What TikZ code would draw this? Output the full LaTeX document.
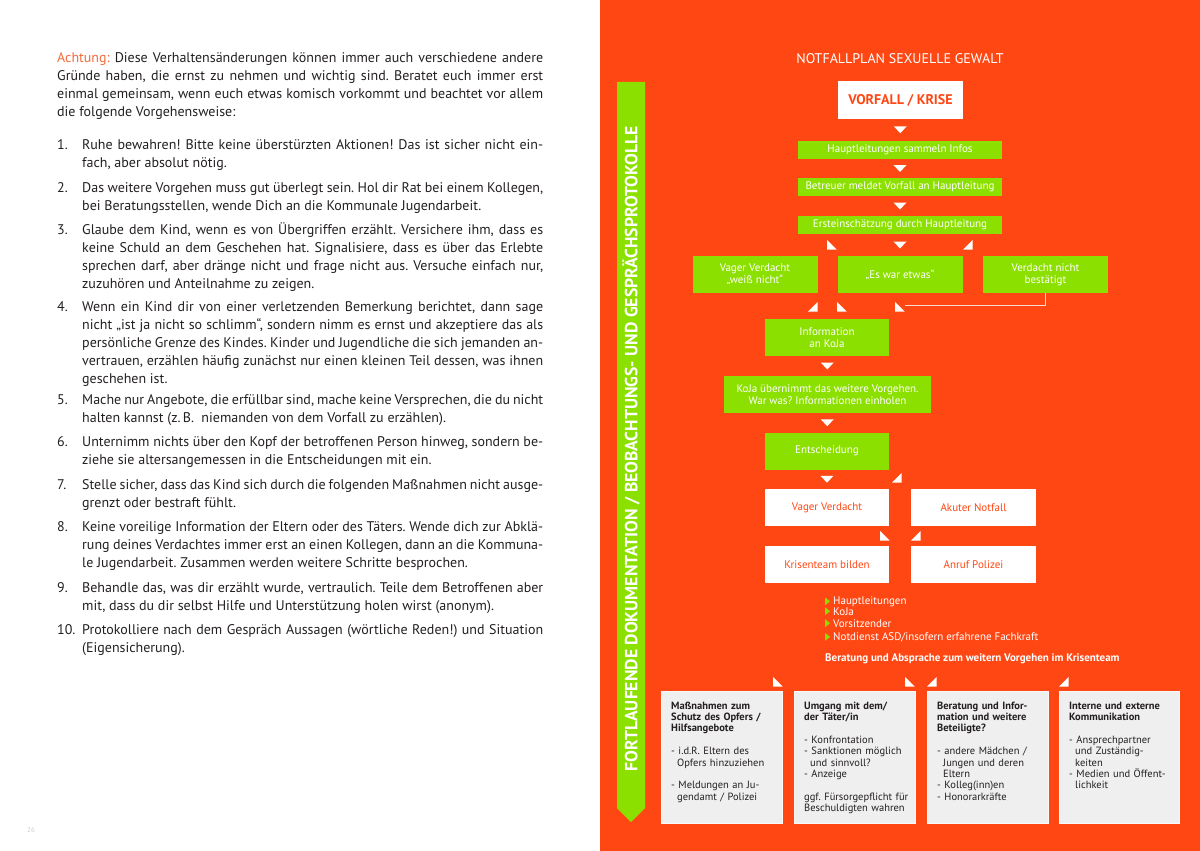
\documentclass[tikz,border=0pt]{standalone}
\usepackage{fontspec}
\setmainfont{PT Sans}
\usepackage{tikz}
\usetikzlibrary{calc, positioning}
\definecolor{notrot}{HTML}{FF4713}
\definecolor{notgruen}{HTML}{8CE000}
\definecolor{achtung}{HTML}{F26B3A}
\definecolor{kasten}{HTML}{EFEFEF}
\definecolor{schrift}{HTML}{231F20}
\newcommand{\einr}{\hspace*{6pt}}
\frenchspacing
\tikzset{
  tdown/.pic={\fill[white] (-6.5,-3.5) -- (6.5,-3.5) -- (0,3.5) -- cycle;},
  tsw/.pic={\fill[white] (0,0) -- (0,9.5) -- (9.5,9.5) -- cycle;},
  tse/.pic={\fill[white] (9.5,0) -- (9.5,9.5) -- (0,9.5) -- cycle;},
  tbul/.pic={\fill[notgruen] (0,-4) -- (5,0) -- (0,4) -- cycle;},
}
\begin{document}
\begin{tikzpicture}[
  x=1pt, y=-1pt,
  lauf/.style={anchor=base west, inner sep=0pt, text=schrift, align=justify,
    font=\frenchspacing\fontsize{14}{18}\selectfont},
  nr/.style={anchor=base west, inner sep=0pt, text=schrift, font=\fontsize{14}{18}\selectfont},
  gbox/.style={fill=notgruen, text=white, inner sep=0pt, align=center,
    minimum width=125pt, minimum height=37pt, font=\fontsize{11}{12}\selectfont},
  gbar/.style={gbox, minimum width=204pt, minimum height=18pt},
  wbox/.style={fill=white, text=notrot, inner sep=0pt, align=center,
    minimum width=125pt, minimum height=37pt, font=\fontsize{11}{12}\selectfont},
  grau/.style={fill=kasten, draw=white!60!kasten, inner sep=0pt, anchor=north west,
    minimum width=121pt, minimum height=132pt},
  ktext/.style={anchor=base west, inner sep=0pt, text=schrift, align=left,
    text width=112pt, font=\frenchspacing\fontsize{10.5}{11.4}\selectfont},
  liste/.style={anchor=base west, inner sep=0pt, text=white, font=\fontsize{11}{12}\selectfont},
]
\useasboundingbox (0,0) rectangle (1200,851);
\fill[notrot] (600,0) rectangle (1200,851);

% linke Seite
\node[lauf, text width=486pt] (achtung) at (57,62.5) {\textcolor{achtung}{Achtung:} Diese Verhaltensänderungen können immer auch verschiedene andere\linebreak Gründe haben, die ernst zu nehmen und wichtig sind. Beratet euch immer erst\linebreak einmal gemeinsam, wenn euch etwas komisch vorkommt und beachtet vor allem\linebreak die folgende Vorgehensweise:};

\node[nr] (n1) at (57,149.5) {1.};
\node[lauf, text width=461pt] (t1) at (82,149.5) {Ruhe bewahren! Bitte keine überstürzten Aktionen! Das ist sicher nicht ein-\linebreak fach, aber absolut nötig.};
\node[nr] (n2) at (57,192.5) {2.};
\node[lauf, text width=461pt] (t2) at (82,192.5) {Das weitere Vorgehen muss gut überlegt sein. Hol dir Rat bei einem Kollegen,\linebreak bei Beratungsstellen, wende Dich an die Kommunale Jugendarbeit.};
\node[nr] (n3) at (57,234.5) {3.};
\node[lauf, text width=461pt] (t3) at (82,234.5) {Glaube dem Kind, wenn es von Übergriffen erzählt. Versichere ihm, dass es\linebreak keine Schuld an dem Geschehen hat. Signalisiere, dass es über das Erlebte\linebreak sprechen darf, aber dränge nicht und frage nicht aus. Versuche einfach nur,\linebreak zuzuhören und Anteilnahme zu zeigen.};
\node[nr] (n4) at (57,311.5) {4.};
\node[lauf, text width=461pt] (t4) at (82,311.5) {Wenn ein Kind dir von einer verletzenden Bemerkung berichtet, dann sage\linebreak nicht „ist ja nicht so schlimm“, sondern nimm es ernst und akzeptiere das als\linebreak persönliche Grenze des Kindes. Kinder und Jugendliche die sich jemanden an-\linebreak vertrauen, erzählen häufig zunächst nur einen kleinen Teil dessen, was ihnen\linebreak geschehen ist.};
\node[nr] (n5) at (57,404.5) {5.};
\node[lauf, text width=461pt] (t5) at (82,404.5) {Mache nur Angebote, die erfüllbar sind, mache keine Versprechen, die du nicht\linebreak halten kannst (z.\,B.~ niemanden von dem Vorfall zu erzählen).};
\node[nr] (n6) at (57,446.5) {6.};
\node[lauf, text width=461pt] (t6) at (82,446.5) {Unternimm nichts über den Kopf der betroffenen Person hinweg, sondern be-\linebreak ziehe sie altersangemessen in die Entscheidungen mit ein.};
\node[nr] (n7) at (57,489.5) {7.};
\node[lauf, text width=461pt] (t7) at (82,489.5) {Stelle sicher, dass das Kind sich durch die folgenden Maßnahmen nicht ausge-\linebreak grenzt oder bestraft fühlt.};
\node[nr] (n8) at (57,531.5) {8.};
\node[lauf, text width=461pt] (t8) at (82,531.5) {Keine voreilige Information der Eltern oder des Täters. Wende dich zur Abklä-\linebreak rung deines Verdachtes immer erst an einen Kollegen, dann an die Kommuna-\linebreak le Jugendarbeit. Zusammen werden weitere Schritte besprochen.};
\node[nr] (n9) at (57,592.5) {9.};
\node[lauf, text width=461pt] (t9) at (82,592.5) {Behandle das, was dir erzählt wurde, vertraulich. Teile dem Betroffenen aber\linebreak mit, dass du dir selbst Hilfe und Unterstützung holen wirst (anonym).};
\node[nr] (n10) at (57,634.5) {10.};
\node[lauf, text width=461pt] (t10) at (82,634.5) {Protokolliere nach dem Gespräch Aussagen (wörtliche Reden!) und Situation\linebreak (Eigensicherung).};

\node[anchor=base west, inner sep=0pt, text=black!20, font=\fontsize{7}{7}\selectfont] (seite) at (27,832) {26};

% rechte Seite
\node[text=white, inner sep=0pt, font=\fontsize{14}{14}\selectfont] (titel) at (900,59) {NOTFALLPLAN SEXUELLE GEWALT};

\fill[notgruen] (617,82) -- (645,82) -- (645,808) -- (631,822) -- (617,808) -- cycle;
\node[rotate=90, text=white, inner sep=0pt, font=\bfseries\fontsize{17.6}{17.6}\selectfont] (band) at (631,449) {FORTLAUFENDE DOKUMENTATION / BEOBACHTUNGS- UND GESPRÄCHSPROTOKOLLE};

\node[wbox, font=\bfseries\fontsize{14}{14}\selectfont] (vorfall) at (900.5,100) {VORFALL / KRISE};
\node[gbar] (hl1) at (900,150) {Hauptleitungen sammeln Infos};
\node[gbar] (hl2) at (900,187) {Betreuer meldet Vorfall an Hauptleitung};
\node[gbar] (hl3) at (900,225) {Ersteinschätzung durch Hauptleitung};
\node[gbox] (vag) at (755,274.5) {Vager Verdacht\\„weiß nicht“};
\node[gbox] (etwas) at (900,274.5) {„Es war etwas“};
\node[gbox] (nicht) at (1045.5,274.5) {Verdacht nicht\\bestätigt};
\node[gbox, minimum width=124pt] (koja) at (827,337.5) {Information\\an KoJa};
\node[gbox, minimum width=207pt] (vorgehen) at (827.5,394.5) {KoJa übernimmt das weitere Vorgehen.\\War was? Informationen einholen};
\node[gbox, minimum width=124pt] (ent) at (827,451) {Entscheidung};
\node[wbox, minimum width=124pt] (vager) at (827,507.5) {Vager Verdacht};
\node[wbox] (akut) at (973.5,507.5) {Akuter Notfall};
\node[wbox, minimum width=124pt] (krise) at (827,564.5) {Krisenteam bilden};
\node[wbox] (polizei) at (973.5,564.5) {Anruf Polizei};

\pic at ($(vorfall.south)!.5!(hl1.north)$) {tdown};
\pic at ($(hl1.south)!.5!(hl2.north)$) {tdown};
\pic at ($(hl2.south)!.5!(hl3.north)$) {tdown};
\pic at ($(hl3.south)!.5!(etwas.north)$) {tdown};
\pic at ($(koja.south)!.5!(vorgehen.north)$) {tdown};
\pic at ($(vorgehen.south)!.5!(ent.north)$) {tdown};
\pic at ($(ent.south)!.5!(vager.north)$) {tdown};
\pic at (827,240) {tsw};
\pic at (963,240) {tse};
\pic at (808,302) {tse};
\pic at (837,302) {tsw};
\pic at (895,302) {tsw};
\pic at (892,473) {tse};
\pic at (880,531) {tsw};
\pic at (911,531) {tse};

\coordinate (ziel) at (905,305.5);
\draw[white!80!notrot, line width=1pt] (nicht.south) |- (ziel);

\node[liste] (b1) at (833,604) {Hauptleitungen};
\node[liste] (b2) at (833,615) {KoJa};
\node[liste] (b3) at (833,627) {Vorsitzender};
\node[liste] (b4) at (833,640) {Notdienst ASD/insofern erfahrene Fachkraft};
\foreach \b in {b1,b2,b3,b4}
  \pic at ($(\b.west)+(-8,0)$) {tbul};
\node[liste, font=\bfseries\fontsize{11}{12}\selectfont] (beratung) at (825,661) {Beratung und Absprache zum weitern Vorgehen im Krisenteam};

\pic at (773,677) {tsw};
\pic at (905,677) {tsw};
\pic at (927,677) {tse};
\pic at (1059,677) {tse};

\node[grau] (m1) at (661,691) {};
\node[grau] (m2) at (794,691) {};
\node[grau] (m3) at (927,691) {};
\node[grau, minimum width=120pt] (m4) at (1059,691) {};

\node[ktext] (k1) at (671,709) {\textbf{Maßnahmen zum}\\\textbf{Schutz des Opfers /}\\\textbf{Hilfsangebote}\\[11.4pt]- i.d.R. Eltern des\\\einr Opfers hinzuziehen\\[11.4pt]- Meldungen an Ju-\\\einr gendamt / Polizei};
\node[ktext] (k2) at (804,709) {\textbf{Umgang mit dem/}\\\textbf{der Täter/in}\\[11.4pt]- Konfrontation\\- Sanktionen möglich\\\einr und sinnvoll?\\- Anzeige\\[11.4pt]ggf. Fürsorgepflicht für\\Beschuldigten wahren};
\node[ktext] (k3) at (937,709) {\textbf{Beratung und Infor-}\\\textbf{mation und weitere}\\\textbf{Beteiligte?}\\[11.4pt]- andere Mädchen /\\\einr Jungen und deren\\\einr Eltern\\- Kolleg(inn)en\\- Honorarkräfte};
\node[ktext] (k4) at (1069,709) {\textbf{Interne und externe}\\\textbf{Kommunikation}\\[11.4pt]- Ansprechpartner\\\einr und Zuständig-\\\einr keiten\\- Medien und Öffent-\\\einr lichkeit};
\end{tikzpicture}
\end{document}
